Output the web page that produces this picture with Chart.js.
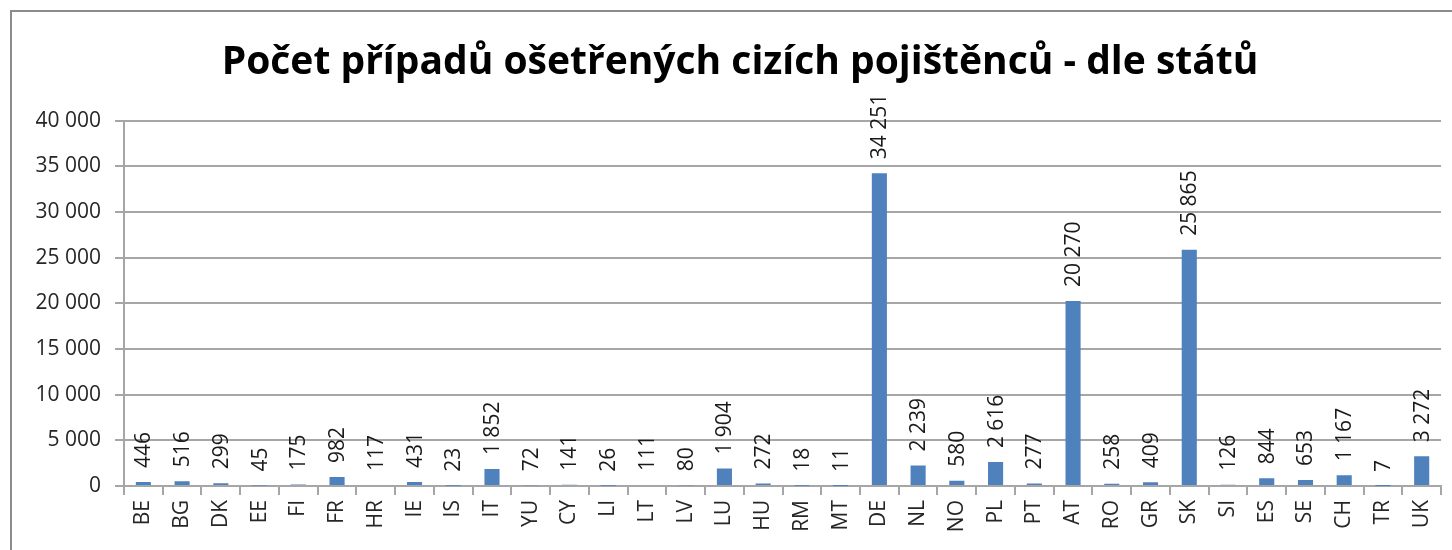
<!DOCTYPE html>
<html lang="cs">
<head>
<meta charset="utf-8">
<title>Počet případů ošetřených cizích pojištěnců - dle států</title>
<script src="https://cdn.jsdelivr.net/npm/chart.js@4/dist/chart.umd.min.js"></script>
<style>
  html, body { margin: 0; padding: 0; background: #fff; overflow: hidden; }
  #frame {
    position: absolute; left: 10px; top: 10px; width: 1470px; height: 580px;
    border: 2px solid #8c8c8c; box-sizing: border-box;
  }
  #wrap { position: absolute; left: 0; top: 0; width: 1452px; height: 550px; }
</style>
</head>
<body>
<div id="frame"></div>
<div id="wrap"><canvas id="chart"></canvas></div>
<script>
const countries = ['BE', 'BG', 'DK', 'EE', 'FI', 'FR', 'HR', 'IE', 'IS', 'IT', 'YU', 'CY', 'LI', 'LT', 'LV', 'LU', 'HU', 'RM', 'MT', 'DE', 'NL', 'NO', 'PL', 'PT', 'AT', 'RO', 'GR', 'SK', 'SI', 'ES', 'SE', 'CH', 'TR', 'UK'];
const cases = [446, 516, 299, 45, 175, 982, 117, 431, 23, 1852, 72, 141, 26, 111, 80, 1904, 272, 18, 11, 34251, 2239, 580, 2616, 277, 20270, 258, 409, 25865, 126, 844, 653, 1167, 7, 3272];
const yTicks = [0, 5000, 10000, 15000, 20000, 25000, 30000, 35000, 40000];

const fontFamily = '"Open Sans", "Noto Sans", sans-serif';

function formatNumber(value) {
  return String(value).replace(/\B(?=(\d{3})+(?!\d))/g, ' ');
}

// value labels above the bars, rotated to read upwards
const valueLabels = {
  id: 'valueLabels',
  afterDatasetsDraw(chart) {
    const ctx = chart.ctx;
    const meta = chart.getDatasetMeta(0);
    ctx.save();
    ctx.font = `21px ${fontFamily}`;
    ctx.fillStyle = '#1a1a1a';
    ctx.textAlign = 'left';
    ctx.textBaseline = 'middle';
    meta.data.forEach((bar, i) => {
      ctx.save();
      ctx.translate(bar.x + 1, bar.y - 14);
      ctx.rotate(-Math.PI / 2);
      ctx.fillText(formatNumber(cases[i]), 0, 0);
      ctx.restore();
    });
    ctx.restore();
  }
};

new Chart(document.getElementById('chart'), {
  type: 'bar',
  data: {
    labels: countries,
    datasets: [{
      data: cases,
      backgroundColor: '#4f81bd',
      barPercentage: 0.39,
      categoryPercentage: 1
    }]
  },
  options: {
    responsive: true,
    maintainAspectRatio: false,
    animation: false,
    layout: { padding: { left: 36, right: 8, top: 0, bottom: 0 } },
    plugins: {
      legend: { display: false },
      tooltip: { enabled: false },
      title: {
        display: true,
        text: 'Počet případů ošetřených cizích pojištěnců - dle států',
        color: '#000',
        font: { family: fontFamily, size: 39, weight: 'bold', lineHeight: 1.2 },
        padding: { top: 39, bottom: 35 }
      }
    },
    scales: {
      x: {
        grid: { drawOnChartArea: false, drawTicks: true, tickLength: 9, color: '#a6a6a6', lineWidth: 2 },
        border: { color: '#a6a6a6', width: 2 },
        ticks: {
          autoSkip: false, minRotation: 90, maxRotation: 90, padding: 5,
          color: '#262626', font: { family: fontFamily, size: 21 }
        },
        afterFit(scale) { scale.height = 64; }
      },
      y: {
        min: 0,
        max: 40000,
        afterBuildTicks(scale) { scale.ticks = yTicks.map(v => ({ value: v })); },
        grid: { color: '#a6a6a6', lineWidth: 2, tickLength: 9 },
        border: { color: '#a6a6a6', width: 2 },
        ticks: {
          padding: 14,
          color: '#262626',
          font: { family: fontFamily, size: 21 },
          callback: value => formatNumber(value)
        },
        afterFit(scale) { scale.width = 88; }
      }
    }
  },
  plugins: [valueLabels]
});
</script>
</body>
</html>
